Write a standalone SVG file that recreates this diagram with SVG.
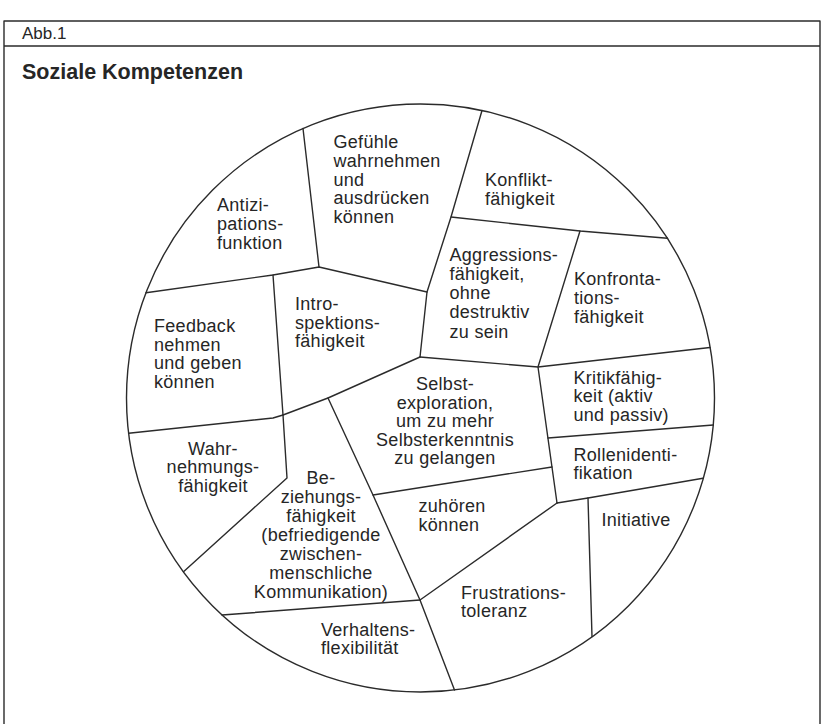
<svg xmlns="http://www.w3.org/2000/svg" width="826" height="724" viewBox="0 0 826 724">
<style>
.ln{fill:none;stroke:#2b2b2b;stroke-width:1.4;stroke-linejoin:round;stroke-linecap:round}
.t{font-family:"Liberation Sans",Arial,Helvetica,sans-serif;font-size:18px;letter-spacing:0.3px;fill:#262626}
.c{text-anchor:middle}
</style>
<rect width="826" height="724" fill="#ffffff"/>
<g id="frame">
<path class="ln" d="M4,724 V21 H820 V724 M4,46 H820"/>
<text class="t" x="22" y="38.5" style="font-size:17px;letter-spacing:0">Abb.1</text>
<text class="t" x="22" y="79" style="font-size:21.5px;font-weight:bold;letter-spacing:0">Soziale Kompetenzen</text>
</g>
<g id="connectors">
<circle class="ln" cx="420.5" cy="398" r="294"/>
<polyline class="ln" points="303,128.5 319,267"/>
<polyline class="ln" points="146,292.7 273,275 319,267 427,292"/>
<polyline class="ln" points="482,110.5 451,217 427,292 420,357"/>
<polyline class="ln" points="451,217 580,231 667.5,238.3"/>
<polyline class="ln" points="580,231 538,367 557,503"/>
<polyline class="ln" points="420,357 538,367 710,347.5"/>
<polyline class="ln" points="548,438 713.3,425"/>
<polyline class="ln" points="557,503 588,498 703,478.3"/>
<polyline class="ln" points="588,498 592,636.5"/>
<polyline class="ln" points="557,503 420,600 454.5,690"/>
<polyline class="ln" points="222,615 420,600"/>
<polyline class="ln" points="328,398 373,495 420,600"/>
<polyline class="ln" points="373,495 552,467"/>
<polyline class="ln" points="420,357 328,398 283,415"/>
<polyline class="ln" points="273,275 283,415 287,478 183.5,571.7"/>
<polyline class="ln" points="128.6,433.3 273,418 283,415"/>
</g>
<g id="antizipation"><text class="t"><tspan x="217" y="211">Antizi-</tspan><tspan x="217" y="230">pations-</tspan><tspan x="217" y="248.5">funktion</tspan></text></g>
<g id="gefuehle"><text class="t"><tspan x="333.5" y="148">Gefühle</tspan><tspan x="333.5" y="167">wahrnehmen</tspan><tspan x="333.5" y="185.5">und</tspan><tspan x="333.5" y="204">ausdrücken</tspan><tspan x="333.5" y="222.5">können</tspan></text></g>
<g id="konflikt"><text class="t"><tspan x="485" y="186">Konflikt-</tspan><tspan x="485" y="204.5">fähigkeit</tspan></text></g>
<g id="aggression"><text class="t"><tspan x="449.5" y="261">Aggressions-</tspan><tspan x="449.5" y="280">fähigkeit,</tspan><tspan x="449.5" y="299">ohne</tspan><tspan x="449.5" y="318">destruktiv</tspan><tspan x="449.5" y="337.5">zu sein</tspan></text></g>
<g id="konfrontation"><text class="t"><tspan x="574" y="285">Konfronta-</tspan><tspan x="574" y="304">tions-</tspan><tspan x="574" y="322.5">fähigkeit</tspan></text></g>
<g id="introspektion"><text class="t"><tspan x="295" y="310">Intro-</tspan><tspan x="295" y="328.5">spektions-</tspan><tspan x="295" y="347">fähigkeit</tspan></text></g>
<g id="feedback"><text class="t"><tspan x="154" y="331.5">Feedback</tspan><tspan x="154" y="350.5">nehmen</tspan><tspan x="154" y="369">und geben</tspan><tspan x="154" y="387.5">können</tspan></text></g>
<g id="selbstexploration"><text class="t c"><tspan x="445" y="390">Selbst-</tspan><tspan x="445" y="408.5">exploration,</tspan><tspan x="445" y="427">um zu mehr</tspan><tspan x="445" y="445.5">Selbsterkenntnis</tspan><tspan x="445" y="464">zu gelangen</tspan></text></g>
<g id="zuhoeren"><text class="t"><tspan x="418.5" y="512">zuhören</tspan><tspan x="418.5" y="530.5">können</tspan></text></g>
<g id="kritik"><text class="t"><tspan x="573.5" y="383.5">Kritikfähig-</tspan><tspan x="573.5" y="402">keit (aktiv</tspan><tspan x="573.5" y="420.5">und passiv)</tspan></text></g>
<g id="rollen"><text class="t"><tspan x="573.5" y="460.5">Rollenidenti-</tspan><tspan x="573.5" y="479">fikation</tspan></text></g>
<g id="initiative"><text class="t" x="601.5" y="525.5">Initiative</text></g>
<g id="frustration"><text class="t"><tspan x="461" y="598.5">Frustrations-</tspan><tspan x="461" y="617">toleranz</tspan></text></g>
<g id="verhalten"><text class="t"><tspan x="321" y="635.5">Verhaltens-</tspan><tspan x="321" y="654">flexibilität</tspan></text></g>
<g id="beziehung"><text class="t c"><tspan x="321" y="484">Be-</tspan><tspan x="321" y="503">ziehungs-</tspan><tspan x="321" y="521.5">fähigkeit</tspan><tspan x="321" y="540.5">(befriedigende</tspan><tspan x="321" y="559.5">zwischen-</tspan><tspan x="321" y="578.5">menschliche</tspan><tspan x="321" y="597.5">Kommunikation)</tspan></text></g>
<g id="wahrnehmung"><text class="t c"><tspan x="213" y="454.5">Wahr-</tspan><tspan x="213" y="473">nehmungs-</tspan><tspan x="213" y="491.5">fähigkeit</tspan></text></g>
</svg>
